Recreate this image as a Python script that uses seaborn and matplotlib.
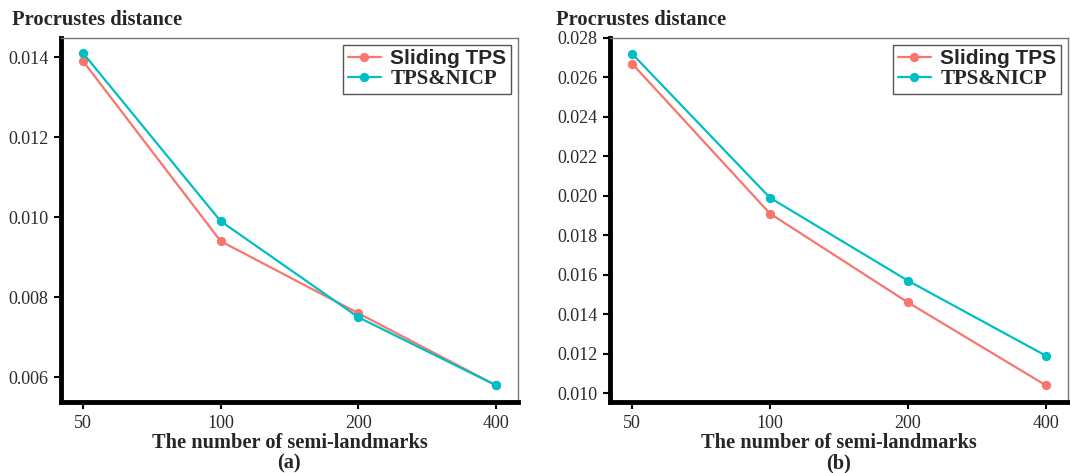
import matplotlib
matplotlib.use("Agg")
import matplotlib.pyplot as plt
import seaborn as sns
import pandas as pd

# ---- data ----
n_landmarks = ["50", "100", "200", "400"]
methods = ["Sliding TPS", "TPS&NICP"]
a_sliding = [0.0139, 0.0094, 0.0076, 0.0058]
a_nicp = [0.0141, 0.0099, 0.0075, 0.0058]
b_sliding = [0.0267, 0.0191, 0.0146, 0.0104]
b_nicp = [0.0272, 0.0199, 0.0157, 0.0119]
a_yticks = [0.006, 0.008, 0.010, 0.012, 0.014]
b_yticks = [0.010, 0.012, 0.014, 0.016, 0.018, 0.020, 0.022, 0.024, 0.026, 0.028]
panel_labels = ["(a)", "(b)"]

sns.set_style("white")
plt.rcParams["font.family"] = ["Liberation Serif", "DejaVu Serif"]

colors = {"Sliding TPS": "#F8766D", "TPS&NICP": "#00BFC4"}

def make_df(s, t):
    return pd.DataFrame({
        "n": n_landmarks * 2,
        "value": s + t,
        "method": [methods[0]] * 4 + [methods[1]] * 4,
    })

fig = plt.figure(figsize=(10.7, 4.73), dpi=100)
ax_a = fig.add_axes([0.057, 0.150, 0.427, 0.770])
ax_b = fig.add_axes([0.570, 0.150, 0.428, 0.770])

panels = [
    (ax_a, make_df(a_sliding, a_nicp), a_yticks, (0.00538, 0.01448)),
    (ax_b, make_df(b_sliding, b_nicp), b_yticks, (0.00955, 0.0280)),
]

for i, (ax, df, yt, ylim) in enumerate(panels):
    sns.pointplot(data=df, x="n", y="value", hue="method", order=n_landmarks,
                  hue_order=methods, palette=colors, ax=ax,
                  markers="o", markersize=5.5, linewidth=1.6, errorbar=None)
    ax.set_xlim(-0.16, 3.16)
    ax.set_ylim(*ylim)
    ax.set_yticks(yt)
    ax.set_yticklabels([f"{v:.3f}" for v in yt])
    ax.tick_params(axis="both", which="both", direction="out", length=5,
                   width=1.5, color="black", labelsize=13, labelcolor="#2a2a2a",
                   left=True, bottom=True, pad=4)
    for side in ["left", "bottom"]:
        ax.spines[side].set_color("black")
        ax.spines[side].set_linewidth(3.5)
    for side in ["top", "right"]:
        ax.spines[side].set_color("#777777")
        ax.spines[side].set_linewidth(1.0)
    ax.set_ylabel("")
    ax.set_xlabel("The number of semi-landmarks\n" + panel_labels[i],
                  fontsize=14.7, fontweight="bold", labelpad=1, linespacing=1.05)
    ax.text(-0.107 if i == 0 else -0.118, 1.022, "Procrustes distance",
            transform=ax.transAxes, fontsize=14.8, fontweight="bold",
            ha="left", va="bottom")
    handles, labels = ax.get_legend_handles_labels()
    leg = ax.legend(handles, labels, loc="upper right", frameon=True,
                    fancybox=False, edgecolor="#555555", framealpha=1,
                    borderaxespad=0.35, handlelength=1.6, handletextpad=0.45,
                    borderpad=0.2, labelspacing=0.05, fontsize=15)
    leg.get_frame().set_linewidth(1.0)
    texts = leg.get_texts()
    texts[0].set_fontfamily(["Liberation Sans", "DejaVu Sans"])
    texts[0].set_fontweight("bold")
    texts[1].set_fontfamily(["Liberation Serif", "DejaVu Serif"])
    texts[1].set_fontweight("bold")

fig.savefig("out.png", dpi=100)
